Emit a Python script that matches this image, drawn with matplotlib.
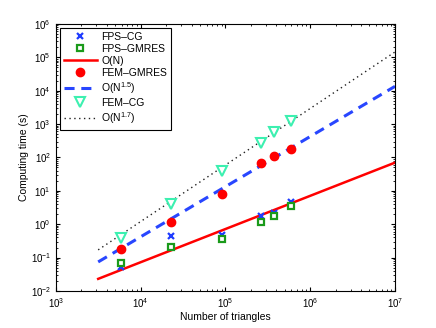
import matplotlib
matplotlib.use("Agg")
import matplotlib.pyplot as plt
import numpy as np
from matplotlib.ticker import LogLocator, NullFormatter

plt.rcParams['font.family'] = ['Liberation Sans', 'DejaVu Sans']
plt.rcParams['mathtext.fontset'] = 'custom'
plt.rcParams['mathtext.rm'] = 'Liberation Sans'

triangles = [5.8e3, 2.3e4, 9.2e4, 2.6e5, 3.7e5, 5.9e5]
fps_cg = [0.052, 0.45, 0.46, 1.7, 2.2, 4.5]
fps_gmres = [0.069, 0.21, 0.36, 1.19, 1.7, 3.4]
fem_gmres = [0.18, 1.2, 8.3, 66, 107, 185]
fem_cg = [0.39, 3.9, 40, 280, 560, 1200]

ref_x = [3.16e3, 1e7]
ref_n = [0.023, 70]
ref_n15 = [0.074, 1.35e4]
ref_n17 = [0.17, 1.45e5]

fig = plt.figure(figsize=(4.36, 3.28), dpi=100)
ax = fig.add_axes([0.128, 0.113, 0.778, 0.814])

ax.plot(triangles, fps_cg, 'x', color='#1f3cff', ms=4.5, mew=1.6, label='FPS\u2013CG', zorder=3)
ax.plot(triangles, fps_gmres, 's', color='#1a9a1a', mfc='white', ms=5, mew=1.6, label='FPS\u2013GMRES', zorder=3)
ax.plot(ref_x, ref_n, '-', color='#ff0000', lw=1.8, label='O(N)', zorder=2)
ax.plot(triangles, fem_gmres, 'o', color='#ff0000', ms=6, label='FEM\u2013GMRES', zorder=3)
ax.plot(ref_x, ref_n15, '--', color='#2846ff', lw=2.2, dashes=(3.3, 2.2), label='O(N$^{1.5}$)', zorder=2)
ax.plot(triangles, fem_cg, 'v', color='#3cf0b0', mfc='white', ms=7, mew=1.5, label='FEM\u2013CG', zorder=3)
ax.plot(ref_x, ref_n17, ':', color='#202020', lw=1.0, dashes=(1, 2.5), label='O(N$^{1.7}$)', zorder=2)

ax.set_xscale('log')
ax.set_yscale('log')
ax.set_xlim(1e3, 1e7)
ax.set_ylim(1e-2, 1e6)
ax.tick_params(which='both', direction='in', top=True, right=True, labelsize=7)
ax.tick_params(which='major', length=3)
ax.tick_params(which='minor', length=1.5)
ax.xaxis.set_major_locator(LogLocator(base=10, numticks=10))
ax.yaxis.set_major_locator(LogLocator(base=10, numticks=10))
ax.xaxis.set_minor_locator(LogLocator(base=10, subs=np.arange(2, 10), numticks=20))
ax.yaxis.set_minor_locator(LogLocator(base=10, subs=np.arange(2, 10), numticks=20))
ax.xaxis.set_minor_formatter(NullFormatter())
ax.yaxis.set_minor_formatter(NullFormatter())
for s in ax.spines.values():
    s.set_linewidth(0.8)

ax.set_xlabel('Number of triangles', fontsize=7.5, labelpad=2)
ax.set_ylabel('Computing time (s)', fontsize=7.5, labelpad=1)

leg = ax.legend(loc='upper left', fontsize=7.5, fancybox=False, edgecolor='black',
                framealpha=1, borderaxespad=0.4, handlelength=3.2, labelspacing=0.2,
                borderpad=0.35, handletextpad=0.4)
leg.get_frame().set_linewidth(0.8)

fig.savefig('out.png', dpi=100)
